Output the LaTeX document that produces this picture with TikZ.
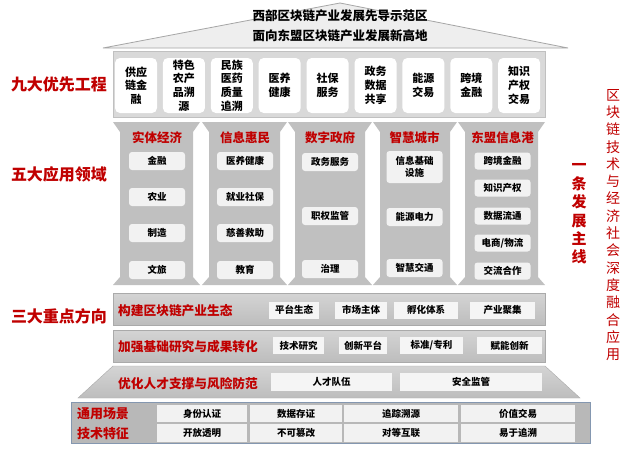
\documentclass[tikz,border=0pt]{standalone}
\usepackage{fontspec}
\setmainfont{Noto Sans CJK SC}
\definecolor{rd}{HTML}{C00000}
\definecolor{roofgray}{HTML}{EEEEEE}
\definecolor{roofline}{HTML}{A6A6A6}
\definecolor{bandlight}{HTML}{D9D9D9}
\definecolor{colgray}{HTML}{C0C0C0}
\definecolor{itemfill}{HTML}{F2F2F2}
\definecolor{boxfill}{HTML}{F5F5F5}
\definecolor{bandtop}{HTML}{D4D4D4}
\definecolor{bandbot}{HTML}{BDBDBD}
\definecolor{tblgray}{HTML}{B8B8B8}
\definecolor{tblline}{HTML}{8497B0}
\definecolor{cellfill}{HTML}{F2F2F2}
\begin{document}
\begin{tikzpicture}[x=1pt,y=-1pt,
 nbox/.style={fill=white, rounded corners=5pt, minimum width=42pt, minimum height=55pt, inner sep=0pt, align=center, font=\bfseries\fontsize{11}{13.7}\selectfont},
 citem/.style={fill=itemfill, rounded corners=3pt, minimum width=56pt, minimum height=18pt, inner sep=0pt, align=center, font=\bfseries\fontsize{9.5}{12}\selectfont},
 chead/.style={text=rd, font=\bfseries\fontsize{12.5}{14}\selectfont, inner sep=0pt},
 bandtxt/.style={text=rd, anchor=west, font=\bfseries\fontsize{12.7}{14}\selectfont, inner sep=0pt},
 bbox/.style={fill=boxfill, minimum height=17pt, inner sep=0pt, font=\bfseries\fontsize{9.5}{12}\selectfont},
 sidelab/.style={text=rd, font=\bfseries\fontsize{16}{18}\selectfont, inner sep=0pt},
 cell/.style={fill=cellfill, inner sep=0pt, font=\bfseries\fontsize{9.5}{12}\selectfont},
 bandshade/.style={top color=bandtop, bottom color=bandbot, draw=bandbot!90!black, line width=0.4pt},
 colshape/.style={fill=colgray}
]
\useasboundingbox (0,0) rectangle (630,450);
\fill[white] (0,0) rectangle (630,450);

% roof
\filldraw[fill=roofgray, draw=roofline, line width=0.8pt] (103,48) -- (340,3) -- (568,48) -- cycle;
\node[font=\bfseries\fontsize{12.5}{14}\selectfont, inner sep=0pt] (t1) at (340,16) {西部区块链产业发展先导示范区};
\node[font=\bfseries\fontsize{12.5}{14}\selectfont, inner sep=0pt] (t2) at (340,36) {面向东盟区块链产业发展新高地};

% nine-box band
\filldraw[fill=bandlight, draw=colgray, line width=0.6pt] (113,51) rectangle (545,117);
\node[nbox] (n1) at (136,85.5) {供应\\链金\\融};
\node[nbox] (n2) at (183.9,85.5) {特色\\农产\\品溯\\源};
\node[nbox] (n3) at (231.8,85.5) {民族\\医药\\质量\\追溯};
\node[nbox] (n4) at (279.7,85.5) {医养\\健康};
\node[nbox] (n5) at (327.6,85.5) {社保\\服务};
\node[nbox] (n6) at (375.5,85.5) {政务\\数据\\共享};
\node[nbox] (n7) at (423.4,85.5) {能源\\交易};
\node[nbox] (n8) at (471.3,85.5) {跨境\\金融};
\node[nbox] (n9) at (519.2,85.5) {知识\\产权\\交易};

% columns
\foreach \xa/\xb in {113/200, 202/287, 288/372, 373/457, 458/545}{
  \fill[colshape] (\xa,122) -- (\xb,122) -- (\xb-7,132) -- (\xb-7,277) -- (\xb,285) -- (\xa,285) -- (\xa+7,277) -- (\xa+7,132) -- cycle;
}
% column headers
\node[chead] (h1) at (157,138) {实体经济};
\node[chead] (h2) at (245,138) {信息惠民};
\node[chead] (h3) at (330,138) {数字政府};
\node[chead] (h4) at (414.5,138) {智慧城市};
\node[chead] (h5) at (502.5,138) {东盟信息港};
% column 1
\node[citem] (c11) at (157,161) {金融};
\node[citem] (c12) at (157,197) {农业};
\node[citem] (c13) at (157,233) {制造};
\node[citem] (c14) at (157,270) {文旅};
% column 2
\node[citem] (c21) at (245,161) {医养健康};
\node[citem] (c22) at (245,197) {就业社保};
\node[citem] (c23) at (245,233) {慈善救助};
\node[citem] (c24) at (245,270) {教育};
% column 3
\node[citem] (c31) at (330,162) {政务服务};
\node[citem] (c32) at (330,216) {职权监管};
\node[citem] (c33) at (330,269) {治理};
% column 4
\node[citem, minimum height=32pt] (c41) at (414.5,167) {信息基础\\设施};
\node[citem] (c42) at (414.5,217) {能源电力};
\node[citem] (c43) at (414.5,268) {智慧交通};
% column 5
\node[citem, minimum height=17pt] (c51) at (502.5,161) {跨境金融};
\node[citem, minimum height=17pt] (c52) at (502.5,188) {知识产权};
\node[citem, minimum height=17pt] (c53) at (502.5,216) {数据流通};
\node[citem, minimum height=17pt] (c54) at (502.5,243) {电商/物流};
\node[citem, minimum height=17pt] (c55) at (502.5,271) {交流合作};

% band A
\path[bandshade] (113,293) rectangle (545,325);
\node[bandtxt] (ba) at (118,311) {构建区块链产业生态};
\node[bbox, minimum width=50pt] (a1) at (294,310) {平台生态};
\node[bbox, minimum width=52pt] (a2) at (361,310) {市场主体};
\node[bbox, minimum width=64pt] (a3) at (426,310) {孵化体系};
\node[bbox, minimum width=65pt] (a4) at (502.5,310) {产业聚集};

% band B
\path[bandshade] (113,330) rectangle (545,362);
\node[bandtxt] (bb) at (118,347) {加强基础研究与成果转化};
\node[bbox, minimum width=51pt] (b1) at (298.5,345.5) {技术研究};
\node[bbox, minimum width=48pt] (b2) at (363,345.5) {创新平台};
\node[bbox, minimum width=63pt] (b3) at (431.5,345.5) {标准/专利};
\node[bbox, minimum width=65pt] (b4) at (509.5,345.5) {赋能创新};

% band C
\path[bandshade] (113,366) -- (545,366) -- (580,398) -- (78,398) -- cycle;
\node[bandtxt] (bc) at (118,384) {优化人才支撑与风险防范};
\node[bbox, minimum width=121pt, minimum height=18pt] (c1) at (331.5,382) {人才队伍};
\node[bbox, minimum width=142pt, minimum height=18pt] (c2) at (471,382) {安全监管};

% bottom table
\filldraw[fill=tblgray, draw=tblline, line width=0.8pt] (71,402) rectangle (590,443);
\node[text=rd, font=\bfseries\fontsize{13}{15}\selectfont, inner sep=0pt] (r1) at (103,414) {通用场景};
\node[text=rd, font=\bfseries\fontsize{13}{15}\selectfont, inner sep=0pt] (r2) at (103,434) {技术特征};
\node[cell, minimum width=90pt, minimum height=17pt] (s1) at (202,413.5) {身份认证};
\node[cell, minimum width=92pt, minimum height=17pt] (s2) at (296,413.5) {数据存证};
\node[cell, minimum width=114pt, minimum height=17pt] (s3) at (401,413.5) {追踪溯源};
\node[cell, minimum width=114pt, minimum height=17pt] (s4) at (518,413.5) {价值交易};
\node[cell, minimum width=90pt, minimum height=18pt] (f1) at (202,433) {开放透明};
\node[cell, minimum width=92pt, minimum height=18pt] (f2) at (296,433) {不可篡改};
\node[cell, minimum width=114pt, minimum height=18pt] (f3) at (401,433) {对等互联};
\node[cell, minimum width=114pt, minimum height=18pt] (f4) at (518,433) {易于追溯};

% left labels
\node[sidelab] (l1) at (59,84) {九大优先工程};
\node[sidelab] (l2) at (59,174) {五大应用领域};
\node[sidelab] (l3) at (59,316) {三大重点方向};

% right vertical texts
\node[text=rd, font=\bfseries\fontsize{15}{18.4}\selectfont, align=center, inner sep=0pt] (v1) at (579,214) {一\\条\\发\\展\\主\\线};
\node[text=rd, font=\fontsize{14}{17.3}\selectfont, align=center, inner sep=0pt] (v2) at (613,225) {区\\块\\链\\技\\术\\与\\经\\济\\社\\会\\深\\度\\融\\合\\应\\用};
\end{tikzpicture}
\end{document}
